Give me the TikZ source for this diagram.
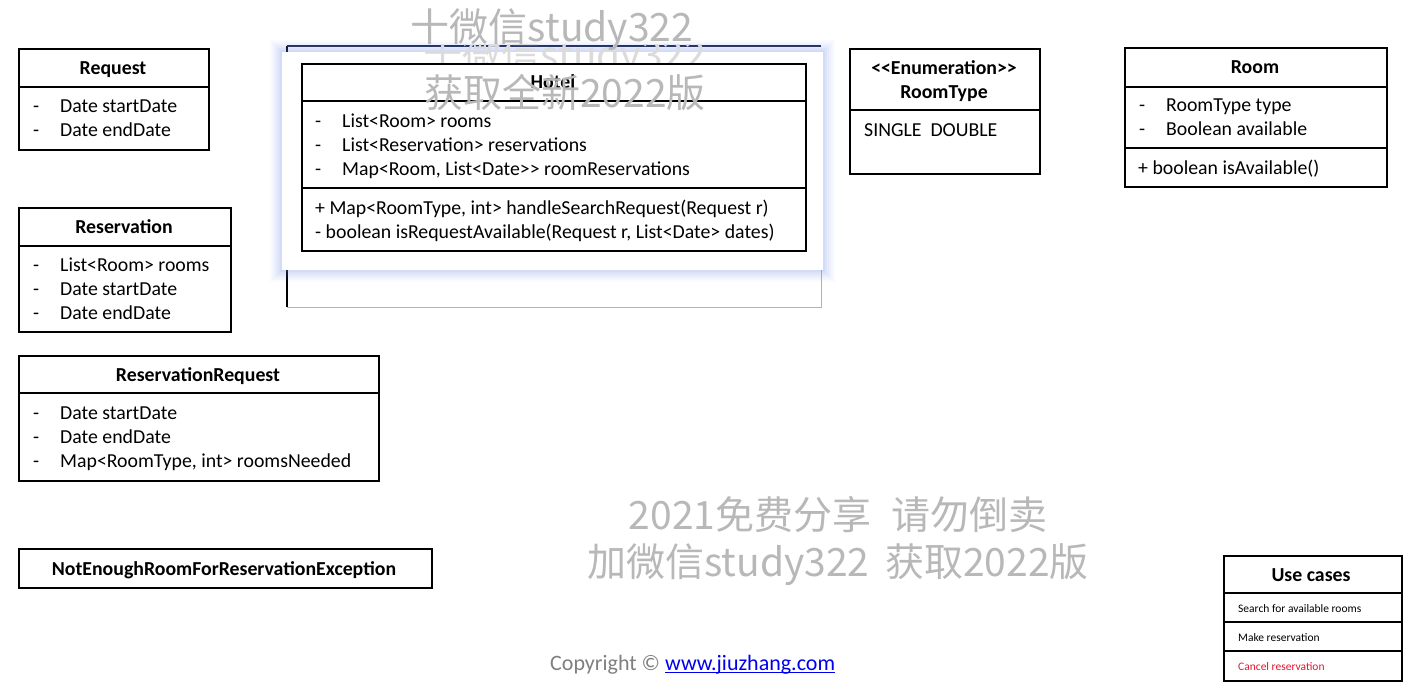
\documentclass[tikz,border=0pt]{standalone}
\usepackage{fontspec}
\setmainfont{Carlito}
\newfontfamily\cjk{Noto Sans CJK SC}
\definecolor{linkblue}{RGB}{0,0,238}
\definecolor{cancelred}{RGB}{230,20,50}
\definecolor{glowblue}{RGB}{110,145,235}
\definecolor{navy}{RGB}{30,40,80}
\begin{document}
\begin{tikzpicture}[x=1pt,y=-1pt,
  box/.style={draw=black,line width=1.6pt,rectangle,inner sep=0pt,anchor=north west},
  divider/.style={draw=black,line width=1.6pt},
  txt/.style={anchor=base west,inner sep=0pt,font=\fontsize{19.8}{23}\selectfont},
  ttl/.style={anchor=base,inner sep=0pt,font=\fontsize{19.8}{23}\selectfont\bfseries},
  small/.style={anchor=base west,inner sep=0pt,font=\fontsize{11.5}{14}\selectfont},
  wm/.style={inner sep=0pt,text=black!28,font=\fontsize{39}{42}\selectfont\cjk},
  wmfaint/.style={inner sep=0pt,text=black!14,font=\fontsize{39}{42}\selectfont\cjk}
]
\useasboundingbox (0,0) rectangle (1404,681);
\fill[white] (0,0) rectangle (1404,681);

% ---------- Request ----------
\node[box,minimum width=190pt,minimum height=101pt] (req) at (18,48) {};
\draw[divider] (18,87) -- (208,87);
\node[ttl] (reqT) at (113,74) {Request};
\node[txt] (req1b) at (33,112) {-};
\node[txt] (req1) at (60,112) {Date startDate};
\node[txt] (req2b) at (33,136) {-};
\node[txt] (req2) at (60,136) {Date endDate};

% ---------- Reservation ----------
\node[box,minimum width=212pt,minimum height=124pt] (res) at (18,207) {};
\draw[divider] (18,246) -- (230,246);
\node[ttl] (resT) at (124,233) {Reservation};
\node[txt] (res1b) at (33,271) {-};
\node[txt] (res1) at (60,271) {List<Room> rooms};
\node[txt] (res2b) at (33,295) {-};
\node[txt] (res2) at (60,295) {Date startDate};
\node[txt] (res3b) at (33,319) {-};
\node[txt] (res3) at (60,319) {Date endDate};

% ---------- ReservationRequest ----------
\node[box,minimum width=360pt,minimum height=125pt] (rr) at (18,355) {};
\draw[divider] (18,393) -- (378,393);
\node[ttl] (rrT) at (198,381) {ReservationRequest};
\node[txt] (rr1b) at (33,419) {-};
\node[txt] (rr1) at (60,419) {Date startDate};
\node[txt] (rr2b) at (33,443) {-};
\node[txt] (rr2) at (60,443) {Date endDate};
\node[txt] (rr3b) at (33,467) {-};
\node[txt] (rr3) at (60,467) {Map<RoomType, int> roomsNeeded};

% ---------- Exception ----------
\node[box,minimum width=413pt,minimum height=39pt] (exc) at (18,548) {};
\node[ttl] (excT) at (224,575) {NotEnoughRoomForReservationException};

% ---------- Hotel (with frame behind) ----------
\draw[black!30,line width=0.8pt] (287,270) -- (287,307) -- (821,307) -- (821,270);
\draw[black,line width=1.4pt] (287,46) -- (287,307);
\draw[navy,line width=1.4pt] (287,46) -- (821,46);
\foreach \d/\o in {12/0.03,10/0.04,8/0.05,6/0.06,4/0.07,2/0.09}
  \fill[glowblue,opacity=\o] (282-\d,52-\d) rectangle (823+\d,270+\d);
\fill[white] (282,52) rectangle (823,270);
\begin{scope}
  \clip (282,44) rectangle (823,62);
  \node[wmfaint,anchor=center] (wm2) at (565,58) {十微信study322};
\end{scope}
\node[box,minimum width=504pt,minimum height=187pt] (hotel) at (301,63) {};
\draw[divider] (301,101) -- (805,101);
\draw[divider] (301,188) -- (805,188);
\node[ttl] (hotT) at (553,88) {Hotel};
\node[txt] (h1b) at (315,127) {-};
\node[txt] (h1) at (342,127) {List<Room> rooms};
\node[txt] (h2b) at (315,151) {-};
\node[txt] (h2) at (342,151) {List<Reservation> reservations};
\node[txt] (h3b) at (315,175) {-};
\node[txt] (h3) at (342,175) {Map<Room, List<Date>{}> roomReservations};
\node[txt] (m1) at (315,214) {+ Map<RoomType, int> handleSearchRequest(Request r)};
\node[txt] (m2) at (315,238) {- boolean isRequestAvailable(Request r, List<Date> dates)};

% ---------- RoomType ----------
\node[box,minimum width=190pt,minimum height=125pt] (rt) at (849,48) {};
\draw[divider] (849,110) -- (1039,110);
\node[ttl] (rtT1) at (944,74) {<{}<Enumeration>{}>};
\node[ttl] (rtT2) at (944,98) {RoomType};
\node[txt] (rt1) at (864,136) {SINGLE\ \ DOUBLE};

% ---------- Room ----------
\node[box,minimum width=262pt,minimum height=139pt] (room) at (1124,47) {};
\draw[divider] (1124,87) -- (1386,87);
\draw[divider] (1124,148) -- (1386,148);
\node[ttl] (roomT) at (1255,73) {Room};
\node[txt] (ro1b) at (1139,111) {-};
\node[txt] (ro1) at (1166,111) {RoomType type};
\node[txt] (ro2b) at (1139,135) {-};
\node[txt] (ro2) at (1166,135) {Boolean available};
\node[txt] (ro3) at (1138,174) {+ boolean isAvailable()};

% ---------- Use cases ----------
\node[box,minimum width=178pt,minimum height=125pt] (uc) at (1223,555) {};
\draw[divider] (1223,593) -- (1401,593);
\draw[divider] (1223,622) -- (1401,622);
\draw[divider] (1223,651) -- (1401,651);
\node[ttl] (ucT) at (1311,581) {Use cases};
\node[small] (uc1) at (1238,612) {Search for available rooms};
\node[small] (uc2) at (1238,641) {Make reservation};
\node[small,text=cancelred] (uc3) at (1238,670) {Cancel reservation};

% ---------- Watermarks ----------
\node[wm,anchor=center] (wm1) at (552,30) {十微信study322};
\node[wm,anchor=center] (wm3) at (565,93) {获取全新2022版};
\node[wm,anchor=center] (wm4) at (838,515) {2021免费分享\hspace{0.5em}请勿倒卖};
\node[wm,anchor=center] (wm5) at (838,565) {加微信study322\hspace{0.4em}获取2022版};

% ---------- Copyright ----------
\node[anchor=base west,inner sep=0pt,text=black!50,font=\fontsize{22}{26}\selectfont] (copy) at (550,670) {Copyright ©};
\node[anchor=base west,inner sep=0pt,text=linkblue,font=\fontsize{22}{26}\selectfont] (link) at (665,670) {www.jiuzhang.com};
\draw[linkblue,line width=1pt] ([yshift=-2.5pt]link.base west) -- ([yshift=-2.5pt]link.base east);
\end{tikzpicture}
\end{document}
